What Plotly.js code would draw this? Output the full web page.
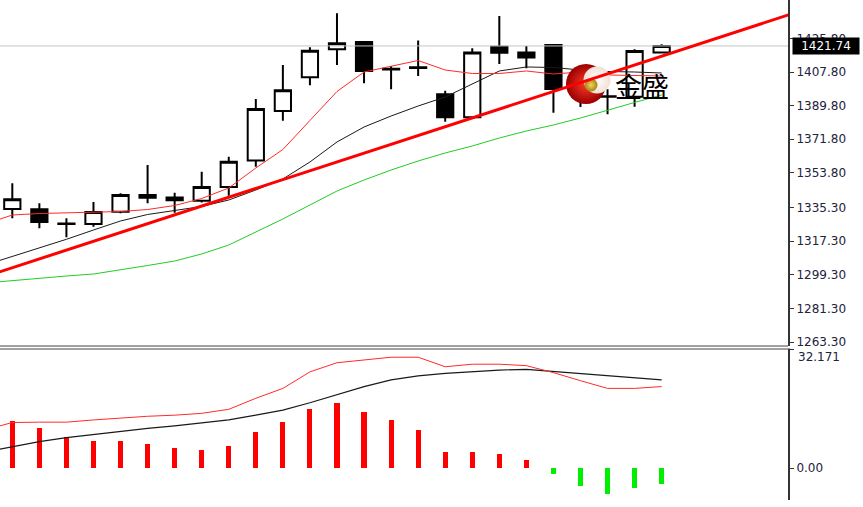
<!DOCTYPE html>
<html>
<head>
<meta charset="utf-8">
<script src="https://cdn.plot.ly/plotly-3.0.1.min.js"></script>
<style>
  html, body { margin: 0; padding: 0; background: #fff; }
  #chart { width: 863px; height: 507px; }
</style>
</head>
<body>
<div id="chart"></div>
<script>
// ---- Candles (index 0..24) ----
const openPrices  = [1334.5, 1334.3, 1326.4, 1326.5, 1333.0, 1342.0, 1340.7, 1338.9, 1346.3, 1360.5, 1386.9, 1405.0, 1420.0, 1423.9, 1409.5, 1410.0, 1395.9, 1383.6, 1421.3, 1418.3, 1422.3, 1399.5, 1394.8, 1394.6, 1418.3];
const highPrices  = [1348.2, 1337.5, 1329.5, 1338.2, 1342.9, 1358.0, 1343.2, 1354.4, 1362.5, 1393.3, 1411.5, 1421.0, 1439.2, 1424.2, 1411.0, 1424.6, 1397.8, 1420.5, 1437.8, 1421.7, 1422.8, 1405.0, 1398.5, 1420.0, 1422.6];
const lowPrices   = [1329.5, 1324.2, 1319.3, 1325.0, 1332.2, 1337.5, 1332.5, 1337.9, 1341.6, 1357.1, 1381.7, 1400.7, 1411.5, 1401.8, 1398.5, 1405.7, 1381.2, 1383.3, 1412.1, 1409.8, 1386.0, 1389.0, 1385.2, 1389.2, 1418.0];
const closePrices = [1339.7, 1327.5, 1326.7, 1332.9, 1342.0, 1340.5, 1339.1, 1346.3, 1359.8, 1388.0, 1398.0, 1419.2, 1423.2, 1408.3, 1409.2, 1410.3, 1383.6, 1418.3, 1418.1, 1415.5, 1398.7, 1394.5, 1394.5, 1419.0, 1421.74];

// ---- Moving averages (index -1..24) ----
const maFast  = [1326.45, 1331.27, 1332.07, 1332.34, 1332.61, 1333.14, 1334.21, 1336.35, 1340.1, 1345.72, 1356.42, 1366.32, 1381.84, 1397.36, 1407.8, 1411.01, 1413.96, 1408.87, 1407.0, 1407.0, 1408.34, 1406.73, 1407.8, 1406.2, 1405.93, 1405.66];
const maMid   = [1304.51, 1309.06, 1313.61, 1318.26, 1323.24, 1328.06, 1331.54, 1333.68, 1335.82, 1339.3, 1344.65, 1350.54, 1359.63, 1370.34, 1378.37, 1384.25, 1389.6, 1394.42, 1401.38, 1408.34, 1410.48, 1410.21, 1408.87, 1408.07, 1407.8, 1407.27];
const maSlow  = [1294.88, 1296.21, 1297.55, 1298.62, 1299.69, 1301.83, 1304.24, 1306.65, 1310.4, 1315.21, 1322.17, 1329.13, 1336.62, 1344.11, 1350.0, 1355.35, 1360.17, 1364.45, 1368.2, 1372.48, 1376.22, 1379.44, 1383.18, 1387.46, 1391.48, 1395.49];

// ---- Trend line (two anchor points, x in bar index) ----
const trendX = [-1, 29];
const trendY = [1298.33, 1439.86];

// ---- MACD (lines: index -1..24, histogram: index 0..24) ----
const macdDif  = [10.4, 12.4, 12.5, 12.5, 13.1, 13.7, 14.1, 14.4, 14.9, 16.0, 19.0, 21.7, 26.2, 28.7, 29.4, 30.2, 30.2, 27.6, 28.3, 28.3, 27.9, 26.0, 23.8, 21.7, 21.7, 22.2];
const macdDea  = [4.4, 5.8, 7.2, 8.3, 9.2, 10.1, 10.8, 11.5, 12.3, 13.1, 14.4, 15.8, 17.8, 20.1, 22.2, 24.0, 25.1, 25.8, 26.3, 26.7, 26.9, 26.3, 25.8, 25.1, 24.5, 24.0];
const macdHist = [12.8, 10.8, 8.5, 7.5, 7.5, 6.6, 5.5, 5.0, 6.1, 9.8, 12.5, 16.2, 17.6, 15.4, 13.1, 10.4, 4.4, 4.4, 3.7, 2.2, -1.7, -5.0, -7.1, -5.5, -4.4];

// ---- Axis tick labels ----
const priceTicks = [1425.80, 1407.80, 1389.80, 1371.80, 1353.80, 1335.30, 1317.30, 1299.30, 1281.30, 1263.30];
const priceTickText = ['1425.80', '1407.80', '1389.80', '1371.80', '1353.80', '1335.30', '1317.30', '1299.30', '1281.30', '1263.30'];
const macdTop = 32.171;
const macdTopText = '32.171';
const macdTicks = [0, 32.171];
const macdTickText = ['0.00', ''];
const logoText = '金盛';

// ---- build ----
const barIdx = closePrices.map((_, i) => i);
const lineIdx = maFast.map((_, i) => i - 1);
const lastClose = closePrices[closePrices.length - 1];

const xRange = [-0.455, 28.67];
const yRange = [1261.16, 1446.33];
const y2Range = [-8.72, 32.44];
const plotW = 788, plotTopH = 346;
function pxX(px) { return xRange[0] + (px / plotW) * (xRange[1] - xRange[0]); }
function pxY(py) { return yRange[1] - (py / plotTopH) * (yRange[1] - yRange[0]); }

const tickFont = { family: 'DejaVu Sans', size: 12, color: '#22223c' };

const traces = [
  { type: 'scatter', mode: 'lines', x: trendX, y: [lastClose, lastClose],
    line: { color: '#c4c4c4', width: 1 }, xaxis: 'x', yaxis: 'y', hoverinfo: 'skip' },
  { type: 'candlestick', x: barIdx, open: openPrices, high: highPrices, low: lowPrices, close: closePrices,
    xaxis: 'x', yaxis: 'y', whiskerwidth: 0,
    increasing: { line: { color: '#000000', width: 2 }, fillcolor: '#ffffff' },
    decreasing: { line: { color: '#000000', width: 2 }, fillcolor: '#000000' } },
  { type: 'scatter', mode: 'lines', x: lineIdx, y: maSlow, line: { color: '#22cc22', width: 1 }, xaxis: 'x', yaxis: 'y' },
  { type: 'scatter', mode: 'lines', x: lineIdx, y: maMid, line: { color: '#1a1a1a', width: 1 }, xaxis: 'x', yaxis: 'y' },
  { type: 'scatter', mode: 'lines', x: lineIdx, y: maFast, line: { color: '#ff2a2a', width: 1 }, xaxis: 'x', yaxis: 'y' },
  // logo (decoration)
  { type: 'scatter', mode: 'markers', x: [pxX(586)], y: [pxY(84)],
    marker: { size: 40, color: '#9a0000', gradient: { type: 'radial', color: '#ff3a2a' }, line: { width: 0 } },
    xaxis: 'x', yaxis: 'y', hoverinfo: 'skip' },
  { type: 'scatter', mode: 'markers', x: [pxX(597)], y: [pxY(80)],
    marker: { size: 27, color: '#f0e0d6', gradient: { type: 'radial', color: '#ffffff' }, line: { width: 0 } },
    xaxis: 'x', yaxis: 'y', hoverinfo: 'skip' },
  { type: 'scatter', mode: 'markers', x: [pxX(591)], y: [pxY(85)],
    marker: { size: 13, color: '#a88210', gradient: { type: 'radial', color: '#f2d462' }, line: { width: 0 } },
    xaxis: 'x', yaxis: 'y', hoverinfo: 'skip' },
  { type: 'scatter', mode: 'lines', x: trendX, y: trendY, line: { color: '#ff0000', width: 3 }, xaxis: 'x', yaxis: 'y' },
  // MACD
  { type: 'bar', x: barIdx, y: macdHist, width: 0.19,
    marker: { color: macdHist.map(v => v >= 0 ? '#ff0000' : '#00ee00'), line: { width: 0 } },
    xaxis: 'x', yaxis: 'y2' },
  { type: 'scatter', mode: 'lines', x: lineIdx, y: macdDea, line: { color: '#1a1a1a', width: 1.2 }, xaxis: 'x', yaxis: 'y2' },
  { type: 'scatter', mode: 'lines', x: lineIdx, y: macdDif, line: { color: '#ff2a2a', width: 1 }, xaxis: 'x', yaxis: 'y2' }
];

const layout = {
  width: 863, height: 507,
  margin: { l: 0, r: 75, t: 0, b: 7, pad: 0 },
  paper_bgcolor: '#ffffff', plot_bgcolor: '#ffffff',
  showlegend: false,
  boxgap: 0.4, boxgroupgap: 0,
  bargap: 0,
  xaxis: { range: xRange, anchor: 'y2', showgrid: false, zeroline: false, showline: false,
           showticklabels: false, ticks: '', rangeslider: { visible: false }, fixedrange: true },
  yaxis: { domain: [0.308, 1], range: yRange, side: 'right', anchor: 'x',
           showgrid: false, zeroline: false, showline: true, linecolor: '#333333', linewidth: 2,
           ticks: 'outside', ticklen: 4, tickwidth: 1, tickcolor: '#333333',
           tickmode: 'array', tickvals: priceTicks, ticktext: priceTickText, tickfont: tickFont },
  yaxis2: { domain: [0, 0.302], range: y2Range, side: 'right', anchor: 'x',
            showgrid: false, zeroline: false, showline: true, linecolor: '#333333', linewidth: 2,
            ticks: 'outside', ticklen: 4, tickwidth: 1, tickcolor: '#333333',
            tickmode: 'array', tickvals: macdTicks, ticktext: macdTickText, tickfont: tickFont },
  shapes: [
    { type: 'line', xref: 'paper', yref: 'paper', x0: 0, x1: 1, y0: 0.308, y1: 0.308, line: { color: '#444444', width: 1 } },
    { type: 'line', xref: 'paper', yref: 'paper', x0: 0, x1: 1.003, y0: 0.302, y1: 0.302, line: { color: '#444444', width: 1 } }
  ],
  annotations: [
    { xref: 'paper', yref: 'y', x: 1, y: lastClose, xanchor: 'left', yanchor: 'middle', xshift: 4,
      text: lastClose.toFixed(2), showarrow: false, bgcolor: '#000000', borderpad: 1, width: 64,
      font: { family: 'DejaVu Sans', size: 12, color: '#ffffff' } },
    { xref: 'paper', yref: 'y2', x: 1, y: macdTop, xanchor: 'left', yanchor: 'top', xshift: 8, yshift: 2,
      text: macdTopText, showarrow: false, font: tickFont },
    { xref: 'paper', yref: 'paper', x: 642 / 788, y: 1 - 86 / 500, xanchor: 'center', yanchor: 'middle',
      text: logoText, showarrow: false, font: { family: 'Noto Sans CJK SC', size: 27, color: '#000000' } }
  ]
};

Plotly.newPlot('chart', traces, layout, { staticPlot: true, displayModeBar: false });
</script>
</body>
</html>
